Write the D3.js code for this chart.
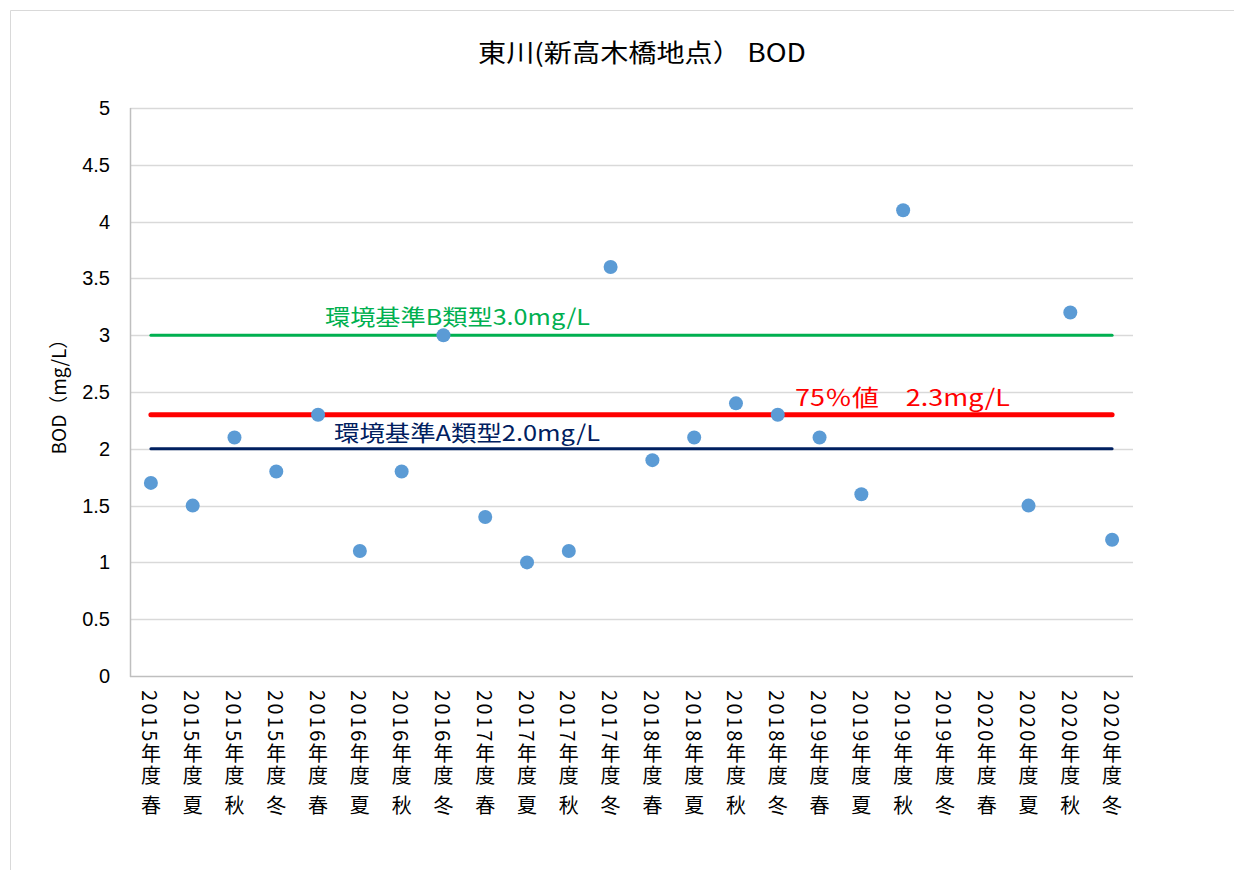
<!DOCTYPE html>
<html>
<head>
<meta charset="utf-8">
<script src="https://cdn.jsdelivr.net/npm/d3@7"></script>
<style>
  html, body { margin: 0; padding: 0; background: #fff; }
  svg { display: block; }
  text { font-family: "Noto Sans CJK JP", "Noto Sans", sans-serif; fill: #000; }
  .tick-num { font-family: "Liberation Sans", Arial, sans-serif; }
</style>
</head>
<body>
<svg id="chart" width="1234" height="870"></svg>
<script>
// Sampling periods (fiscal year + season)
const categories = [
  "2015年度 春", "2015年度 夏", "2015年度 秋", "2015年度 冬",
  "2016年度 春", "2016年度 夏", "2016年度 秋", "2016年度 冬",
  "2017年度 春", "2017年度 夏", "2017年度 秋", "2017年度 冬",
  "2018年度 春", "2018年度 夏", "2018年度 秋", "2018年度 冬",
  "2019年度 春", "2019年度 夏", "2019年度 秋", "2019年度 冬",
  "2020年度 春", "2020年度 夏", "2020年度 秋", "2020年度 冬"
];
// BOD measurements (mg/L); null = no measurement
const bodValues = [
  1.7, 1.5, 2.1, 1.8,
  2.3, 1.1, 1.8, 3.0,
  1.4, 1.0, 1.1, 3.6,
  1.9, 2.1, 2.4, 2.3,
  2.1, 1.6, 4.1, null,
  null, 1.5, 3.2, 1.2
];
const yTicks = [0, 0.5, 1, 1.5, 2, 2.5, 3, 3.5, 4, 4.5, 5];

// Reference levels
const standardB = 3.0;   // 環境基準B類型
const percentile75 = 2.3; // 75%値
const standardA = 2.0;   // 環境基準A類型

const svg = d3.select("#chart");
const plot = { left: 130, right: 1133, top: 108, bottom: 676 };

// outer frame
svg.append("path")
  .attr("d", "M10.5,870 L10.5,10.5 L1234,10.5")
  .attr("fill", "none").attr("stroke", "#d9d9d9").attr("stroke-width", 1);

const x = d3.scaleBand().domain(categories).range([plot.left, plot.right]);
const y = d3.scaleLinear().domain([0, 5]).range([plot.bottom, plot.top]);

// gridlines
svg.append("g").selectAll("line").data(yTicks.filter(t => t > 0)).join("line")
  .attr("x1", plot.left).attr("x2", plot.right)
  .attr("y1", d => Math.round(y(d)) + 0.5).attr("y2", d => Math.round(y(d)) + 0.5)
  .attr("stroke", "#d9d9d9").attr("stroke-width", 1.5);

// y axis labels
const yAxis = d3.axisLeft(y).tickValues(yTicks).tickSize(0).tickPadding(20)
  .tickFormat(d => String(d));
const gy = svg.append("g").attr("transform", `translate(${plot.left},0)`).call(yAxis);
gy.select(".domain").remove();
gy.selectAll("text").attr("class", "tick-num").attr("font-size", 20).attr("fill", "#000");

// axis lines
svg.append("line").attr("x1", plot.left + 0.5).attr("x2", plot.left + 0.5)
  .attr("y1", plot.top).attr("y2", plot.bottom + 1)
  .attr("stroke", "#bfbfbf").attr("stroke-width", 1.5);
svg.append("line").attr("x1", plot.left).attr("x2", plot.right)
  .attr("y1", plot.bottom + 0.5).attr("y2", plot.bottom + 0.5)
  .attr("stroke", "#bfbfbf").attr("stroke-width", 1.5);

// x axis labels (vertical text)
const cx = d => x(d) + x.bandwidth() / 2;
svg.append("g").selectAll("text").data(categories).join("text")
  .attr("x", d => cx(d)).attr("y", 690)
  .attr("font-size", 20)
  .style("writing-mode", "vertical-rl")
  .style("letter-spacing", "2.3px")
  .attr("dominant-baseline", "central")
  .text(d => d);

// reference lines
const first = cx(categories[0]), last = cx(categories[categories.length - 1]);
const refs = [
  { v: standardB, color: "#00b050", w: 3 },
  { v: standardA, color: "#002060", w: 3 },
  { v: percentile75, color: "#ff0000", w: 5 }
];
svg.append("g").selectAll("line").data(refs).join("line")
  .attr("x1", first).attr("x2", last)
  .attr("y1", d => y(d.v)).attr("y2", d => y(d.v))
  .attr("stroke", d => d.color).attr("stroke-width", d => d.w)
  .attr("stroke-linecap", "round");

// points
svg.append("g").selectAll("circle")
  .data(categories.map((c, i) => ({ c, v: bodValues[i] })).filter(d => d.v != null))
  .join("circle")
  .attr("cx", d => cx(d.c)).attr("cy", d => y(d.v)).attr("r", 7)
  .attr("fill", "#5b9bd5");

// reference labels
svg.append("text").attr("x", 325).attr("y", y(standardB) - 10)
  .attr("font-size", 22).attr("textLength", 265).attr("lengthAdjust", "spacingAndGlyphs")
  .style("fill", "#00b050").text("環境基準B類型3.0mg/L");
svg.append("text").attr("x", 334).attr("y", y(standardA) - 8)
  .attr("font-size", 22).attr("textLength", 266).attr("lengthAdjust", "spacingAndGlyphs")
  .style("fill", "#002060").text("環境基準A類型2.0mg/L");
svg.append("text").attr("x", 795).attr("y", y(percentile75) - 9)
  .attr("font-size", 23).attr("textLength", 215).attr("lengthAdjust", "spacingAndGlyphs")
  .style("fill", "#ff0000").text("75％値　2.3mg/L");

// title
svg.append("text").attr("x", 478).attr("y", 62)
  .attr("font-size", 25).attr("textLength", 328).attr("lengthAdjust", "spacingAndGlyphs")
  .text("東川(新高木橋地点） BOD");

// y axis title
svg.append("text")
  .attr("transform", `translate(66,${(plot.top + plot.bottom) / 2}) rotate(-90)`)
  .attr("text-anchor", "middle").attr("font-size", 19)
  .text("BOD（mg/L）");
</script>
</body>
</html>
